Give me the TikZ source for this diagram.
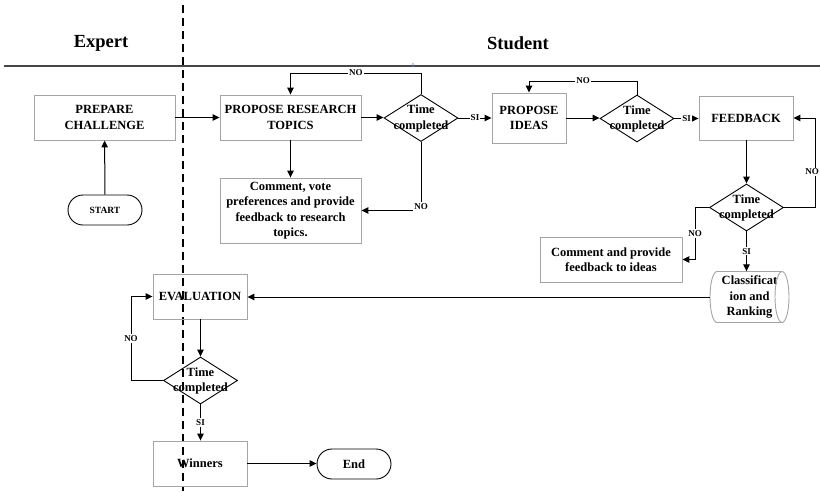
\documentclass[tikz,border=0pt]{standalone}
\usepackage{fontspec}
\setmainfont{Liberation Serif}
\usetikzlibrary{arrows.meta,shapes.geometric,shapes.misc,calc}
\definecolor{boxgray}{RGB}{165,165,165}
\definecolor{linegray}{RGB}{70,70,70}
\definecolor{zeroblue}{RGB}{80,135,205}
\newcommand\myboxfont{\fontsize{12.5}{15.5}\selectfont\bfseries}
\newcommand\mylblfont{\fontsize{9}{10}\selectfont\bfseries}
\newcommand\mytitlefont{\fontsize{18.5}{22}\selectfont\bfseries}
\begin{document}
\begin{tikzpicture}[x=1pt,y=-1pt,
  box/.style={draw=boxgray, line width=0.9pt, align=center, font=\myboxfont, inner sep=0pt},
  stadium/.style={rounded rectangle, draw=black, line width=0.9pt, font=\myboxfont, inner sep=0pt, minimum width=74pt, minimum height=30pt},
  dia/.style={diamond, draw=black, line width=0.9pt, inner sep=0pt, minimum width=74pt, minimum height=47pt},
  dtxt/.style={align=center, font=\myboxfont, inner sep=0pt},
  lbl/.style={fill=white, font=\mylblfont, inner sep=1pt},
  conn/.style={draw=black, line width=1pt},
  arr/.style={conn, -{Triangle[length=7pt,width=6.5pt]}},
]
\useasboundingbox (0,0) rectangle (820,491);

% swimlane lines
\coordinate (hl) at (4,66);
\coordinate (hr) at (820,66);
\draw[linegray, line width=1.3pt] (hl) -- (hr);
\coordinate (vt) at (183,5);
\coordinate (vb) at (183,491);
\draw[black, line width=1.2pt, dash pattern=on 8pt off 5pt] (vt) -- (vb);
\node[font=\fontsize{6}{7}\selectfont, text=zeroblue, inner sep=0pt] (zero) at (413,65.5) {0};

\node[font=\mytitlefont] (expert) at (101,43) {Expert};
\node[font=\mytitlefont] (student) at (518,43) {Student};

% nodes
\node[box, minimum width=141pt, minimum height=45pt] (prep) at (104.5,117.5) {PREPARE\\CHALLENGE};
\node[stadium, font=\fontsize{9.5}{11}\selectfont\bfseries] (start) at (105,210) {START};
\node[box, minimum width=141pt, minimum height=45pt] (prt) at (290.5,117.5) {PROPOSE RESEARCH\\TOPICS};
\node[box, minimum width=141pt, minimum height=65pt] (cvp) at (290.5,210.5) {Comment, vote\\preferences and provide\\feedback to research\\topics.};
\node[dia] (d1) at (421,118) {};
\node[dtxt] (d1t) at (421,118.5) {Time\\completed};
\node[box, minimum width=74pt, minimum height=50pt] (pi) at (529,118) {PROPOSE\\IDEAS};
\node[dia] (d2) at (637,118.5) {};
\node[dtxt] (d2t) at (637,119) {Time\\completed};
\node[box, minimum width=94pt, minimum height=44pt] (fb) at (746,118) {FEEDBACK};
\node[dia] (d3) at (746.5,207.5) {};
\node[dtxt] (d3t) at (746.5,208) {Time\\completed};
\node[box, minimum width=142pt, minimum height=45pt] (cvi) at (611,259.5) {Comment and provide\\feedback to ideas};
\node[dtxt, minimum width=79pt, minimum height=51pt] (cls) at (749.5,297) {Classificat\\ion and\\Ranking};
\draw[boxgray, line width=0.9pt]
  (717,271.5) arc[start angle=90, end angle=270, x radius=7pt, y radius=25.5pt]
  -- (782,322.5) arc[start angle=-90, end angle=90, x radius=7pt, y radius=25.5pt]
  arc[start angle=90, end angle=270, x radius=7pt, y radius=25.5pt]
  (782,271.5) -- (717,271.5);
\node[box, minimum width=94pt, minimum height=45pt] (ev) at (200,296.5) {EVALUATION};
\node[dia] (d4) at (200.5,380.5) {};
\node[dtxt] (d4t) at (200.5,381) {Time\\completed};
\node[box, minimum width=94pt, minimum height=45pt] (win) at (200,463.5) {Winners};
\node[stadium] (end) at (354,464) {End};

% connectors
\draw[arr] (start) -- (prep);
\draw[arr] (prep.east) -- (prep.east -| prt.west);
\draw[arr] (prt.east) -- (prt.east -| d1.west);
\draw[arr] (prt) -- (cvp);
\draw[arr] (d1.north) -- (d1.north |- 0,73) -- node[lbl]{NO} (prt.north |- 0,73) -- (prt.north);
\draw[arr] (d1.south) |- node[lbl, pos=0.5, yshift=4pt]{NO} (cvp.east);
\draw[arr] (d1.east) -- node[lbl]{SI} (d1.east -| pi.west);
\draw[arr] (pi.east) -- (pi.east -| d2.west);
\draw[arr] (d2.north) -- (d2.north |- 0,81) -- node[lbl]{NO} (pi.north |- 0,81) -- (pi.north);
\draw[arr] (d2.east) -- node[lbl]{SI} (d2.east -| fb.west);
\draw[arr] (fb.south -| d3.north) -- (d3.north);
\draw[arr] (d3.east) -- (d3.east -| 815,0) -- node[lbl, pos=0.4, xshift=-3pt]{NO} (fb.east -| 815,0) -- (fb.east);
\draw[arr] (d3.west) -- (d3.west -| 695,0) -- node[lbl]{NO} (cvi.east -| 695,0) -- (cvi.east);
\draw[arr] (d3.south) -- node[lbl]{SI} (d3.south |- cls.north);
\draw[arr] (cls.west) -- (cls.west -| ev.east);
\draw[arr] (ev.south -| d4.north) -- (d4.north);
\draw[arr] (d4.west) -- (d4.west -| 131,0) -- node[lbl]{NO} (ev.west -| 131,0) -- (ev.west);
\draw[arr] (d4.south) -- node[lbl]{SI} (d4.south |- win.north);
\draw[arr] (win.east) -- (win.east -| end.west);
\end{tikzpicture}
\end{document}
